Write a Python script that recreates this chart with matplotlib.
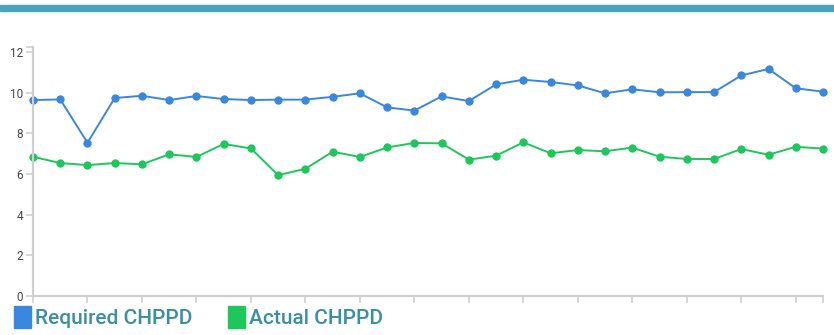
import matplotlib

matplotlib.use("Agg")
import matplotlib.pyplot as plt
from matplotlib.patches import Rectangle

plt.rcParams["font.family"] = ["Roboto", "DejaVu Sans"]

REQUIRED = [
    9.64, 9.67, 7.54, 9.74, 9.85, 9.64, 9.84, 9.69, 9.64, 9.66,
    9.66, 9.80, 9.97, 9.28, 9.12, 9.82, 9.59, 10.41, 10.64, 10.53,
    10.36, 9.97, 10.17, 10.02, 10.03, 10.03, 10.85, 11.17, 10.22, 10.05,
]
ACTUAL = [
    6.85, 6.54, 6.44, 6.54, 6.48, 6.97, 6.84, 7.48, 7.26, 5.94,
    6.26, 7.10, 6.84, 7.31, 7.53, 7.51, 6.71, 6.90, 7.56, 7.02,
    7.18, 7.12, 7.30, 6.85, 6.74, 6.74, 7.23, 6.95, 7.34, 7.25,
]
Y_TICKS = [0, 2, 4, 6, 8, 10, 12]
SERIES = [("Required CHPPD", REQUIRED, "#3a87e0"), ("Actual CHPPD", ACTUAL, "#1ec75c")]

AXIS_GREY = "#cfcfcf"
LABEL_TEAL = "#3b8fa4"

fig = plt.figure(figsize=(8.34, 3.35), dpi=100)
fig.patches.append(
    Rectangle((0, 324 / 335), 1, 6 / 335, transform=fig.transFigure,
              color="#4aa3ba", zorder=0)
)

ax = fig.add_axes([33 / 834, 39 / 335, 790 / 834, 249 / 335])
xs = list(range(len(REQUIRED)))
for label, values, color in SERIES:
    ax.plot(xs, values, color=color, linewidth=1.4, marker="o",
            markersize=6, markeredgewidth=0, label=label, clip_on=False)

ax.set_xlim(0, len(REQUIRED) - 1)
ax.set_ylim(0, 12.25)
ax.set_yticks(Y_TICKS + [12.25])
ax.set_yticklabels([str(t) for t in Y_TICKS] + [""])
ax.set_xticks(list(range(0, len(REQUIRED), 2)) + [len(REQUIRED) - 1])
ax.set_xticklabels([])

for side in ("top", "right"):
    ax.spines[side].set_visible(False)
for side in ("left", "bottom"):
    ax.spines[side].set_color(AXIS_GREY)
    ax.spines[side].set_linewidth(1.6)
ax.tick_params(axis="both", colors=AXIS_GREY, width=1.2, length=5,
               labelcolor="#444444", labelsize=8.5)
ax.tick_params(axis="y", pad=2)

legend_items = [(14, 35), (228, 249)]
for (box_x, text_x), (label, _, color) in zip(legend_items, SERIES):
    fig.patches.append(
        Rectangle((box_x / 834, 7 / 335), 17 / 834, 22 / 335,
                  transform=fig.transFigure, color=color)
    )
    fig.text(text_x / 834, 7 / 335, label, color=LABEL_TEAL, fontsize=15,
             fontweight="medium", ha="left", va="bottom")

fig.savefig("out.png", dpi=100)
